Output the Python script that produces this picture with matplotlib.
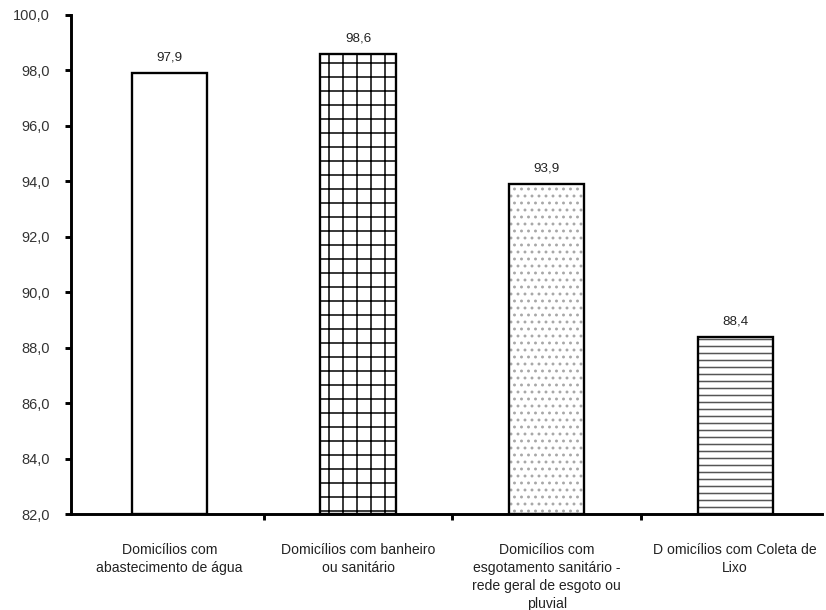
import matplotlib
matplotlib.use("Agg")
import matplotlib.pyplot as plt
from matplotlib.ticker import FuncFormatter

# dados
categorias = ["Domicílios com\nabastecimento de água",
              "Domicílios com banheiro\nou sanitário",
              "Domicílios com\nesgotamento sanitário -\nrede geral de esgoto ou\npluvial",
              "D omicílios com Coleta de\nLixo"]
valores = [97.9, 98.6, 93.9, 88.4]
hachuras = ["", "+", "..", "--"]
cor_hachura = ["black", "black", "#a8a8a8", "#555555"]

DPI = 84
plt.rcParams['font.family'] = ['Liberation Sans', 'DejaVu Sans']
plt.rcParams['hatch.linewidth'] = 1.3

fig = plt.figure(figsize=(826 / DPI, 610 / DPI), dpi=DPI)
ax = fig.add_axes([71 / 826, 1 - 514 / 610, (822 - 71) / 826, (514 - 15) / 610])

x = list(range(len(valores)))
base = 82.0
alturas = [v - base for v in valores]

# hachura primeiro, contorno preto por cima
for i in x:
    ax.bar(i, alturas[i], bottom=base, width=0.4, color="white",
           edgecolor=cor_hachura[i], hatch=hachuras[i], linewidth=0, zorder=2)
ax.bar(x, alturas, bottom=base, width=0.4, color="none",
       edgecolor="black", linewidth=2.0, zorder=3)

for i, v in zip(x, valores):
    ax.annotate(f"{v:.1f}".replace(".", ","), (i, v), xytext=(0, 8),
                textcoords="offset points", ha="center", va="bottom",
                fontsize=11.5, color="#222222")

ax.set_ylim(82, 100)
ax.set_xlim(-0.522, 3.46)
ax.set_yticks([82 + 2 * k for k in range(10)])
ax.yaxis.set_major_formatter(FuncFormatter(lambda v, p: f"{v:.1f}".replace(".", ",")))

ax.set_xticks([0.5, 1.5, 2.5])
ax.set_xticklabels([])
ax.tick_params(axis="x", direction="out", length=5, width=2.5)
ax.tick_params(axis="y", direction="out", length=5, width=2.5,
               labelsize=12.5, labelcolor="#333333", pad=13)

for i, c in zip(x, categorias):
    ax.text(i, 80.95, c, ha="center", va="top", fontsize=12,
            color="#222222", linespacing=1.35)

for s in ["top", "right"]:
    ax.spines[s].set_visible(False)
for s in ["left", "bottom"]:
    ax.spines[s].set_linewidth(2.5)

fig.savefig("out.png", dpi=DPI)
